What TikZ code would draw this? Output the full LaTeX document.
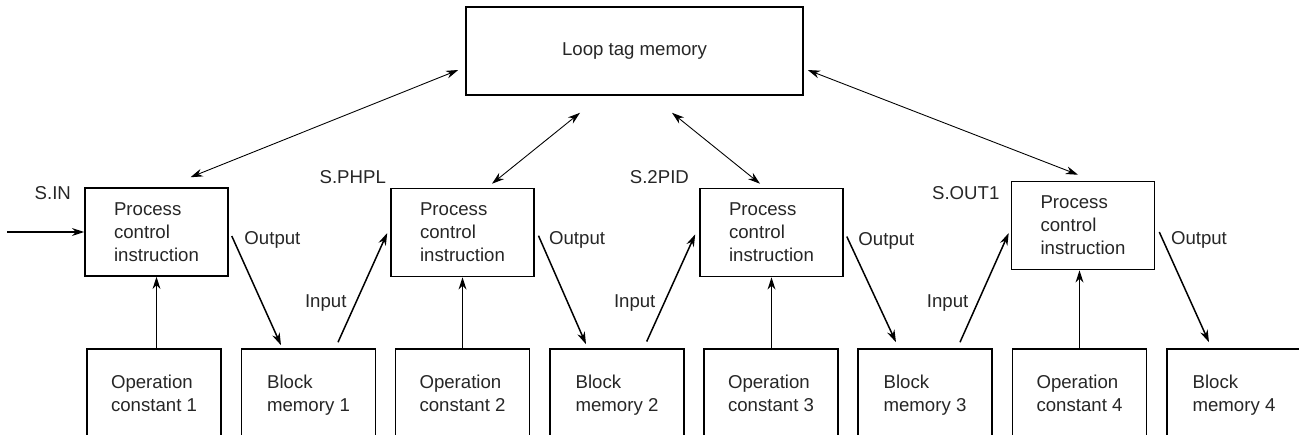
\documentclass[tikz,border=0pt]{standalone}
\usepackage{fontspec}
\setmainfont{Liberation Sans}
\usetikzlibrary{arrows.meta, calc, positioning}
\tikzset{block/.style={draw, line width=0.9pt, minimum width=2.86cm, minimum height=1.76cm,
    align=left, inner sep=0pt, text=black!85},
    instr/.style={block, execute at begin node={\rule{0pt}{10.6pt}}},
    memory/.style={block, minimum width=2.68cm, minimum height=1.84cm,
    execute at begin node={\rule{0pt}{12.1pt}}, execute at end node={\rule[-2.2pt]{0pt}{2.2pt}}},
    tag/.style={inner sep=0pt, text=black!85},
    lbl/.style={inner sep=0pt, text=black!85},
    dbl/.style={{Stealth[length=7pt,width=4.5pt]}-{Stealth[length=7pt,width=4.5pt]}, line width=0.5pt},
    flow/.style={-{Stealth[length=7pt,width=4.5pt]}, line width=0.85pt},
    feed/.style={-{Stealth[length=7pt,width=4.5pt]}, line width=0.6pt}}

\begin{document}
\begin{tikzpicture}[x=0.02cm, y=-0.02cm, font=\fontsize{10.6}{13}\selectfont]
\path[use as bounding box, clip] (0,0) rectangle (1299,434);

% Loop tag memory on top
\node[block, minimum width=6.74cm] (loop) at (634.5,51) {Loop tag memory};

% Process control instructions
\node[instr] (p1) at (156.5,232) {Process\\control\\instruction};
\node[instr] (p2) at (462.5,232.5) {Process\\control\\instruction};
\node[instr] (p3) at (771.5,232.5) {Process\\control\\instruction};
\node[instr] (p4) at (1083,225.5) {Process\\control\\instruction};

% Instruction names
\node[tag, anchor=east] (tin) at ($(p1.north west)+(-13,6)$) {S.IN};
\node[tag, anchor=east] (tphpl) at ($(p2.north west)+(-4,-11)$) {S.PHPL};
\node[tag, anchor=east] (tpid) at ($(p3.north west)+(-10,-11)$) {S.2PID};
\node[tag, anchor=east] (tout) at ($(p4.north west)+(-11,12)$) {S.OUT1};

% Operation constants and block memories
\foreach \i/\x in {1/154,2/462.5,3/771,4/1079.5}
  \node[memory] (c\i) at (\x,395) {Operation\\constant \i};
\foreach \i/\x in {1/308.5,2/617,3/925,4/1234}
  \node[memory] (m\i) at (\x,395) {Block\\memory \i};

% Loop tag memory <-> instructions
\draw[dbl] ($(loop.west)+(-7,19)$) -- ($(p1.north)+(34,-10)$);
\draw[dbl] ($(loop.south)+(-54.5,17)$) -- ($(p2.north)+(29.5,-4)$);
\draw[dbl] ($(loop.south)+(37.5,17)$) -- ($(p3.north)+(-11.5,-4)$);
\draw[dbl] ($(loop.east)+(4,19)$) -- ($(p4.north)+(-5,-6)$);

% Constants feed the instructions
\foreach \i in {1,2,3}
  \draw[feed] (p\i.south |- c\i.north) -- (p\i.south);
\draw[feed] (c4.north) -- (c4.north |- p4.south);

% Input of the first instruction
\coordinate (src) at (7,232);
\draw[flow] (src) -- (p1.west);

% Outputs and inputs through the block memories
\draw[flow] ($(p1.east)+(3,4)$) -- ($(m1.north)+(-27.5,-3)$) node[lbl, pos=0.04, right=0.2cm] {Output};
\draw[flow] ($(m1.north)+(29.5,-6)$) -- ($(p2.west)+(-3,0.5)$) node[lbl, pos=0.36, left=0.17cm] {Input};
\draw[flow] ($(p2.east)+(3.7,3.2)$) -- ($(m2.north)+(-31,-4)$) node[lbl, pos=0.04, right=0.16cm] {Output};
\draw[flow] ($(m2.north)+(29.7,-6.7)$) -- ($(p3.west)+(-4,1.8)$) node[lbl, pos=0.36, left=0.16cm] {Input};
\draw[flow] ($(p3.east)+(3,4)$) -- ($(m3.north)+(-29,-6)$) node[lbl, pos=0.04, right=0.18cm] {Output};
\draw[flow] ($(m3.north)+(35,-6)$) -- ($(p4.west)+(-2,7.5)$) node[lbl, pos=0.36, left=0.17cm] {Input};
\draw[flow] ($(p4.east)+(4,6.5)$) -- ($(m4.north)+(-25,-6)$) node[lbl, pos=0.07, right=0.15cm] {Output};
\end{tikzpicture}
\end{document}
